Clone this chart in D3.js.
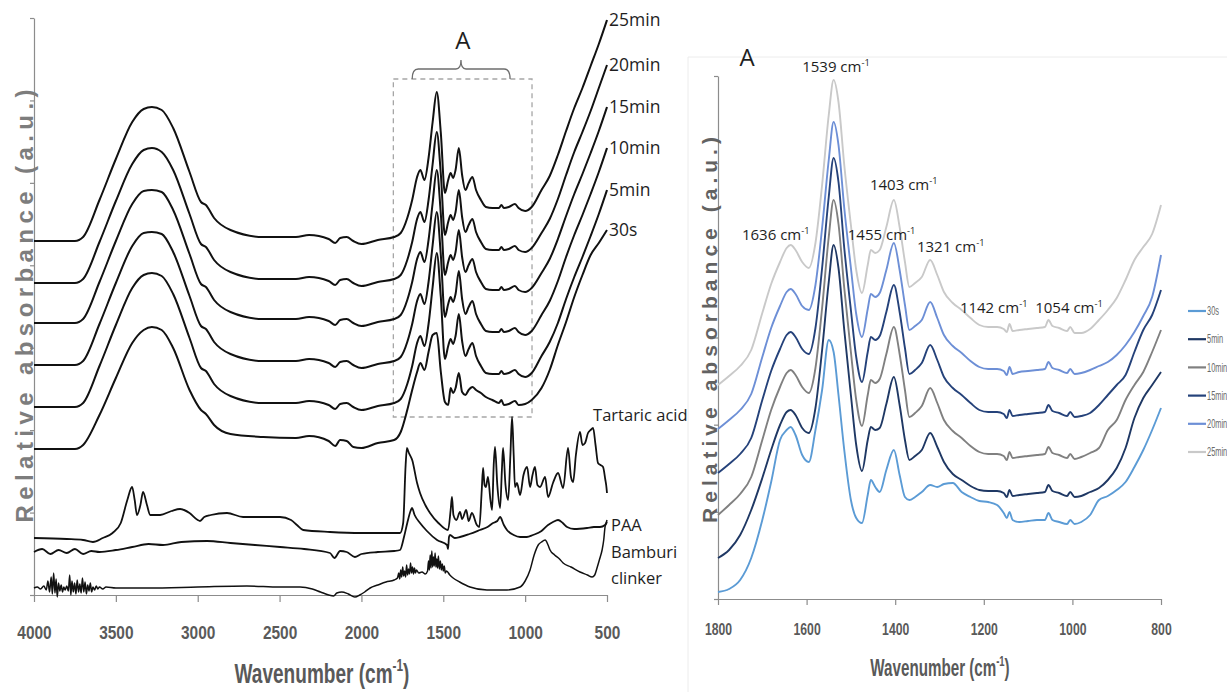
<!DOCTYPE html>
<html>
<head>
<meta charset="utf-8">
<title>FTIR spectra</title>
<script src="https://cdn.jsdelivr.net/npm/d3@7/dist/d3.min.js"></script>
<style>
  body { margin: 0; background: #fff; }
  svg { display: block; }
  .axis path, .axis line { stroke: #8c8c8c; stroke-width: 1.2px; }
  .axis text { font-family: "Liberation Sans", Arial, sans-serif; font-weight: bold; fill: #5a5a5a; }
  .calib { font-family: "Open Sans", "Noto Sans", sans-serif; fill: #1e1e1e; }
</style>
</head>
<body>
<script>
// ---------- data : left panel (4000-500 cm-1), relative absorbance (a.u.) ----------
var LEFT_MAX = 577;
var leftTicks = [4000, 3500, 3000, 2500, 2000, 1500, 1000, 500];

var leftWavenumbers = [4000, 3750, 3700, 3600, 3500, 3400, 3330, 3280, 3220, 3150,
	3050, 2980, 2950, 2900, 2800, 2600, 2400, 2320, 2200, 2160,
	2130, 2090, 2050, 2000, 1900, 1800, 1760, 1720, 1690, 1660,
	1640, 1615, 1590, 1565, 1540, 1515, 1490, 1470, 1455, 1440,
	1425, 1405, 1385, 1365, 1345, 1322, 1300, 1270, 1240, 1200,
	1160, 1145, 1130, 1100, 1062, 1040, 1000, 960, 900, 850,
	800, 750, 700, 650, 600, 550, 500];

var left25min = [354, 354, 358, 395, 436, 473, 486, 488, 485, 467,
	423, 393, 390, 377, 365, 358, 358, 360, 356, 352,
	357, 358, 354, 351, 355, 358, 362, 377, 395, 418,
	425, 415, 437, 473, 503, 462, 402, 415, 422, 417,
	425, 447, 420, 405, 412, 418, 405, 395, 388, 387,
	387, 390, 387, 388, 391, 387, 384, 388, 405, 419,
	440, 464, 487, 507, 529, 551, 575];
var left20min = [312, 312, 316, 353, 394, 431, 445, 447, 443, 425,
	381, 351, 348, 335, 323, 316, 316, 318, 314, 310,
	315, 316, 312, 309, 313, 316, 320, 335, 353, 376,
	383, 373, 395, 431, 463, 421, 360, 373, 380, 375,
	383, 405, 378, 363, 370, 376, 363, 353, 346, 345,
	345, 348, 345, 346, 349, 345, 343, 347, 362, 376,
	396, 420, 443, 463, 484, 507, 530];
var left15min = [272, 272, 276, 313, 354, 391, 404, 405, 403, 385,
	341, 311, 308, 295, 283, 276, 276, 278, 274, 270,
	275, 276, 272, 269, 273, 276, 280, 295, 313, 336,
	343, 333, 355, 392, 425, 381, 320, 333, 340, 335,
	343, 365, 338, 323, 330, 336, 323, 313, 306, 305,
	305, 308, 305, 306, 309, 305, 303, 307, 322, 336,
	356, 379, 401, 421, 442, 464, 488];
var left10min = [230, 230, 234, 271, 312, 349, 362, 363, 361, 343,
	299, 269, 266, 253, 241, 234, 234, 236, 232, 228,
	233, 234, 230, 227, 231, 234, 238, 253, 271, 294,
	301, 291, 313, 350, 383, 340, 278, 291, 298, 293,
	301, 324, 296, 281, 288, 294, 281, 271, 264, 263,
	263, 266, 263, 264, 267, 263, 260, 264, 280, 294,
	314, 338, 360, 380, 401, 423, 447];
var left5min = [188, 188, 192, 229, 270, 307, 320, 322, 319, 301,
	257, 227, 224, 211, 199, 192, 192, 194, 190, 186,
	191, 192, 188, 185, 189, 192, 196, 211, 229, 252,
	259, 249, 271, 308, 342, 298, 236, 249, 256, 251,
	259, 281, 254, 239, 246, 252, 239, 229, 222, 221,
	221, 224, 221, 222, 225, 221, 218, 222, 239, 253,
	272, 296, 318, 338, 359, 381, 405];
var left30s = [146, 146, 150, 180, 217, 252, 265, 268, 265, 247,
	205, 185, 181, 170, 161, 158, 157, 159, 154, 149,
	155, 154, 148, 147, 152, 155, 163, 185, 205, 223,
	232, 225, 243, 260, 262, 223, 193, 190, 207, 202,
	207, 222, 203, 200, 205, 208, 205, 202, 198, 195,
	192, 195, 190, 191, 194, 190, 191, 195, 207, 225,
	250, 273, 298, 320, 340, 352, 365];

var tartaricWn = [4000, 3800, 3700, 3640, 3580, 3520, 3470, 3430, 3401, 3385,
	3371, 3350, 3334, 3310, 3290, 3230, 3160, 3108, 3050, 3000,
	2986, 2960, 2920, 2821, 2723, 2600, 2497, 2430, 2394, 2356,
	2192, 2000, 1764, 1745, 1730, 1722, 1710, 1690, 1660, 1642,
	1610, 1581, 1530, 1471, 1455, 1447, 1438, 1420, 1398, 1385,
	1360, 1345, 1325, 1295, 1280, 1265, 1257, 1248, 1240, 1227,
	1212, 1202, 1192, 1184, 1170, 1153, 1142, 1135, 1120, 1104,
	1090, 1080, 1070, 1062, 1050, 1031, 1010, 988, 970, 955,
	940, 925, 909, 878, 860, 830, 799, 768, 738, 720,
	707, 690, 665, 650, 634, 616, 600, 585, 570, 555,
	540, 524, 510, 505, 500];
var tartaricAbs = [57, 56, 55, 53, 57, 62, 72, 95, 108, 95,
	80, 90, 103, 90, 80, 80, 84, 86, 82, 75,
	74, 78, 80, 82, 78, 78, 78, 75, 70, 65,
	63, 62, 62, 72, 130, 147, 142, 135, 112, 102,
	90, 82, 72, 65, 85, 98, 80, 75, 83, 76,
	85, 74, 82, 70, 68, 105, 127, 110, 108, 118,
	95, 85, 130, 148, 110, 87, 125, 147, 110, 95,
	140, 178, 140, 108, 112, 100, 120, 128, 108, 120,
	128, 110, 108, 118, 98, 112, 122, 107, 147, 118,
	113, 140, 163, 150, 152, 162, 165, 167, 150, 132,
	130, 128, 115, 110, 102];

var paaWn = [4000, 3950, 3900, 3850, 3800, 3750, 3700, 3650, 3600, 3500,
	3400, 3300, 3212, 3100, 2943, 2800, 2650, 2497, 2350, 2192,
	2165, 2130, 2090, 2040, 2000, 1900, 1800, 1764, 1740, 1720,
	1700, 1691, 1675, 1642, 1600, 1538, 1477, 1471, 1465, 1459,
	1430, 1398, 1340, 1276, 1230, 1196, 1170, 1153, 1130, 1111,
	1070, 1031, 990, 952, 900, 860, 830, 799, 770, 744,
	700, 622, 580, 543, 512, 500];
var paaAbs = [43, 46, 41, 45, 42, 46, 41, 44, 43, 45,
	48, 51, 50, 53, 54, 52, 50, 48, 46, 42,
	37, 44, 43, 38, 41, 43, 44, 45, 58, 72,
	84, 87, 80, 72, 64, 55, 50, 46, 58, 60,
	57, 58, 61, 65, 68, 72, 74, 78, 70, 65,
	60, 58, 58, 60, 64, 70, 73, 75, 72, 68,
	66, 67, 68, 68, 70, 73];

var clinkerWn = [4000, 3980, 3960, 3940, 3925, 3915, 3905, 3895, 3888, 3880,
	3872, 3865, 3858, 3850, 3842, 3834, 3826, 3818, 3810, 3800,
	3790, 3782, 3775, 3768, 3760, 3752, 3744, 3736, 3728, 3720,
	3712, 3704, 3696, 3688, 3680, 3672, 3664, 3656, 3648, 3640,
	3630, 3620, 3610, 3600, 3580, 3560, 3500, 3300, 3000, 2700,
	2500, 2375, 2300, 2250, 2200, 2170, 2150, 2120, 2080, 2040,
	2010, 1980, 1947, 1900, 1850, 1800, 1780, 1772, 1766, 1760,
	1754, 1748, 1742, 1736, 1730, 1724, 1718, 1712, 1706, 1700,
	1694, 1688, 1682, 1676, 1670, 1664, 1650, 1630, 1610, 1596,
	1590, 1585, 1580, 1575, 1570, 1565, 1560, 1555, 1550, 1545,
	1540, 1535, 1530, 1524, 1518, 1512, 1506, 1500, 1494, 1488,
	1480, 1460, 1440, 1400, 1337, 1233, 1111, 1031, 1000, 970,
	945, 920, 900, 878, 860, 848, 820, 790, 768, 720,
	665, 620, 591, 575, 561, 545, 530, 520, 512, 505,
	500];
var clinkerAbs = [7, 8, 6, 9, 5, 14, 3, 18, 1, 22,
	2, 16, -2, 12, 4, 10, 3, 8, 5, 9,
	4, 20, 0, 14, 3, 12, 1, 15, 3, 11,
	2, 17, 3, 13, 1, 10, 4, 12, 3, 8,
	5, 9, 6, 8, 6, 8, 7, 7, 8, 9,
	8, 8, 6, 3, 0, -1, 2, 3, 1, -2,
	0, 3, 7, 10, 13, 15, 17, 22, 16, 25,
	18, 28, 19, 24, 18, 30, 20, 26, 21, 32,
	22, 28, 21, 27, 22, 25, 22, 23, 21, 24,
	34, 25, 40, 27, 44, 28, 38, 29, 42, 28,
	36, 27, 39, 26, 34, 25, 31, 24, 29, 22,
	24, 20, 17, 13, 8, 5, 5, 8, 14, 25,
	40, 50, 53, 55, 50, 45, 40, 36, 32, 28,
	23, 20, 18, 20, 27, 36, 45, 55, 68, 72,
	75];

// ---------- data : right panel (region A, 1800-800 cm-1) ----------
var RIGHT_MAX = 523;
var rightTicks = [1800, 1600, 1400, 1200, 1000, 800];

var rightWavenumbers = [1800, 1775, 1750, 1725, 1700, 1680, 1660, 1645, 1636, 1625,
	1610, 1595, 1580, 1565, 1550, 1539, 1528, 1515, 1500, 1488,
	1475, 1462, 1455, 1445, 1435, 1420, 1403, 1390, 1378, 1368,
	1355, 1340, 1321, 1305, 1290, 1270, 1250, 1230, 1210, 1190,
	1170, 1155, 1148, 1142, 1135, 1120, 1100, 1080, 1062, 1054,
	1045, 1030, 1012, 1005, 995, 980, 960, 940, 920, 900,
	880, 860, 840, 820, 800];

var right30s = [7, 10, 19, 41, 79, 117, 159, 169, 172, 164,
	144, 137, 169, 209, 259, 247, 204, 149, 99, 81,
	76, 104, 119, 112, 107, 129, 149, 124, 102, 99,
	102, 107, 114, 112, 115, 116, 107, 102, 98, 97,
	94, 86, 81, 87, 79, 77, 78, 79, 79, 86,
	79, 77, 75, 79, 75, 77, 84, 99, 103, 109,
	117, 132, 149, 169, 191];
var right5min = [41, 49, 64, 89, 121, 149, 174, 187, 189, 184,
	171, 166, 191, 249, 317, 354, 331, 269, 204, 154,
	128, 159, 172, 169, 171, 195, 222, 194, 159, 139,
	143, 149, 166, 152, 137, 125, 119, 113, 109, 108,
	108, 106, 102, 109, 103, 104, 105, 106, 107, 114,
	108, 106, 103, 107, 102, 103, 107, 111, 119, 131,
	151, 181, 201, 214, 227];
var right10min = [84, 94, 105, 122, 159, 189, 212, 226, 229, 224,
	212, 206, 231, 291, 362, 399, 375, 311, 247, 199,
	173, 204, 219, 216, 220, 245, 272, 245, 209, 182,
	186, 193, 211, 196, 179, 168, 161, 153, 147, 145,
	145, 143, 139, 147, 141, 142, 143, 144, 145, 152,
	146, 144, 141, 145, 140, 142, 146, 151, 169, 179,
	199, 214, 227, 247, 269];
var right15min = [126, 135, 145, 161, 199, 228, 250, 264, 267, 262,
	250, 245, 271, 331, 402, 441, 417, 351, 289, 242,
	217, 247, 262, 259, 263, 287, 314, 287, 251, 225,
	229, 236, 254, 239, 222, 211, 204, 196, 189, 187,
	187, 185, 181, 189, 183, 184, 185, 186, 187, 194,
	188, 186, 183, 187, 182, 183, 186, 194, 204, 214,
	224, 247, 269, 284, 309];
var right20min = [170, 179, 189, 205, 242, 271, 293, 307, 310, 305,
	293, 289, 314, 371, 439, 477, 454, 391, 331, 285,
	262, 290, 305, 302, 306, 329, 356, 329, 294, 269,
	273, 279, 297, 281, 264, 253, 246, 238, 232, 230,
	230, 228, 224, 232, 225, 227, 228, 229, 230, 237,
	231, 229, 226, 230, 225, 226, 229, 233, 237, 244,
	254, 267, 283, 302, 344];
var right25min = [214, 223, 233, 249, 286, 315, 337, 351, 354, 349,
	337, 331, 356, 414, 484, 519, 497, 434, 374, 329,
	306, 334, 349, 346, 349, 372, 399, 372, 337, 312,
	316, 322, 339, 324, 307, 296, 289, 281, 274, 272,
	272, 270, 267, 275, 268, 269, 270, 271, 272, 279,
	273, 271, 268, 272, 266, 266, 270, 279, 289, 301,
	319, 339, 352, 365, 394];

var seriesNames = ["30s", "5min", "10min", "15min", "20min", "25min"];
var seriesColors = ["#5b9bd5", "#1f3864", "#808080", "#25427a", "#6d8fd6", "#c9c9c9"];
var peakLabels = ["1539", "1403", "1636", "1455", "1321", "1142", "1054"];

// ---------- drawing ----------
var svg = d3.select("body").append("svg")
	.attr("width", 1227)
	.attr("height", 692);

function pairs(wn, vals) {
	return wn.map(function(w, i) { return [w, vals[i]]; });
}

// text with a "-1" superscript after "cm"
function cmText(sel, before, size, after) {
	sel.append("tspan").text(before);
	sel.append("tspan").attr("dy", -size * 0.42).attr("font-size", size * 0.62).text("-1");
	if (after) sel.append("tspan").attr("dy", size * 0.42).text(after);
}

// narrow bold tick labels: squeeze each label to a width per digit
function squeezeTicks(axisG, size, perDigit) {
	axisG.selectAll("text")
		.attr("font-size", size)
		.attr("textLength", function(d) { return String(d).length * perDigit; })
		.attr("lengthAdjust", "spacingAndGlyphs");
}

// =================== left panel ===================
var xL = d3.scaleLinear().domain([4000, 500]).range([34, 607]);
var yL = d3.scaleLinear().domain([0, LEFT_MAX]).range([595, 18]);

var lineL = d3.line()
	.x(function(d) { return xL(d[0]); })
	.y(function(d) { return yL(d[1]); })
	.curve(d3.curveMonotoneX);

// axes
var axBottomL = svg.append("g")
	.attr("class", "axis")
	.attr("transform", "translate(0," + yL(0) + ")")
	.call(d3.axisBottom(xL).tickValues(leftTicks).tickSize(7).tickSizeOuter(0)
		.tickPadding(24).tickFormat(d3.format("d")));
squeezeTicks(axBottomL, 18, 8.6);

svg.append("g")
	.attr("class", "axis")
	.attr("transform", "translate(" + xL(4000) + ",0)")
	.call(d3.axisLeft(yL).tickValues(d3.range(8).map(function(i) { return i * LEFT_MAX / 7; }))
		.tickSize(4).tickSizeOuter(0).tickFormat(""));

// dashed box marking region A
var boxA = { from: 1805, to: 958, top: 516, bottom: 178 };
svg.append("rect")
	.attr("x", xL(boxA.from))
	.attr("y", yL(boxA.top))
	.attr("width", xL(boxA.to) - xL(boxA.from))
	.attr("height", yL(boxA.bottom) - yL(boxA.top))
	.attr("fill", "none")
	.attr("stroke", "#a6a6a6")
	.attr("stroke-width", 1.3)
	.attr("stroke-dasharray", "5,4");

// brace + "A"
var bl = xL(1690), br = xL(1092), bm = xL(1392), bt = yL(boxA.top);
svg.append("path")
	.attr("d", "M" + bl + "," + bt + " Q" + bl + "," + (bt - 10) + " " + (bl + 6) + "," + (bt - 10) +
		" L" + (bm - 5) + "," + (bt - 10) + " Q" + bm + "," + (bt - 10) + " " + bm + "," + (bt - 19) +
		" Q" + bm + "," + (bt - 10) + " " + (bm + 5) + "," + (bt - 10) +
		" L" + (br - 6) + "," + (bt - 10) + " Q" + br + "," + (bt - 10) + " " + br + "," + bt)
	.attr("fill", "none")
	.attr("stroke", "#6e6e6e")
	.attr("stroke-width", 1.3);
svg.append("text")
	.attr("class", "calib")
	.attr("x", bm + 2)
	.attr("y", bt - 30)
	.attr("text-anchor", "middle")
	.attr("font-size", 24)
	.text("A");

// time series (black)
var leftSeries = [
	{ name: "30s", values: left30s },
	{ name: "5min", values: left5min },
	{ name: "10min", values: left10min },
	{ name: "15min", values: left15min },
	{ name: "20min", values: left20min },
	{ name: "25min", values: left25min }
];

leftSeries.forEach(function(s) {
	var data = pairs(leftWavenumbers, s.values);
	svg.append("path")
		.attr("d", lineL(data))
		.attr("fill", "none")
		.attr("stroke", "#111")
		.attr("stroke-width", 2);
	var last = data[data.length - 1];
	svg.append("text")
		.attr("class", "calib")
		.attr("x", xL(last[0]) + 2)
		.attr("y", yL(last[1]))
		.attr("dy", "0.36em")
		.attr("font-size", 17.5)
		.text(s.name);
});

// reference spectra
[[tartaricWn, tartaricAbs, 1.8], [paaWn, paaAbs, 1.8], [clinkerWn, clinkerAbs, 1.5]].forEach(function(r) {
	svg.append("path")
		.attr("d", lineL(pairs(r[0], r[1])))
		.attr("fill", "none")
		.attr("stroke", "#111")
		.attr("stroke-width", r[2]);
});

svg.append("text").attr("class", "calib").attr("x", xL(585)).attr("y", yL(180))
	.attr("dy", "0.36em").attr("font-size", 16.5).text("Tartaric acid");
svg.append("text").attr("class", "calib").attr("x", xL(500) + 4).attr("y", yL(70))
	.attr("dy", "0.36em").attr("font-size", 16.5).text("PAA");
svg.append("text").attr("class", "calib").attr("x", xL(500) + 4).attr("y", yL(43))
	.attr("dy", "0.36em").attr("font-size", 16.5).text("Bamburi");
svg.append("text").attr("class", "calib").attr("x", xL(500) + 4).attr("y", yL(17))
	.attr("dy", "0.36em").attr("font-size", 16.5).text("clinker");

// axis titles
var xtL = svg.append("g").attr("transform", "translate(322,683) scale(0.68,1)")
	.append("text")
	.attr("text-anchor", "middle")
	.attr("font-family", "'Liberation Sans', Arial, sans-serif")
	.attr("font-weight", "bold")
	.attr("font-size", 28)
	.attr("fill", "#595959");
cmText(xtL, "Wavenumber (cm", 28, ")");

svg.append("text")
	.attr("transform", "translate(33,306) rotate(-90)")
	.attr("text-anchor", "middle")
	.attr("font-family", "'Liberation Sans', Arial, sans-serif")
	.attr("font-weight", "bold")
	.attr("font-size", 24)
	.attr("fill", "#7d7d7d")
	.attr("textLength", 433)
	.attr("lengthAdjust", "spacing")
	.text("Relative absorbance (a.u.)");

// =================== right panel ===================
// faint frame of the inset figure
svg.append("path")
	.attr("d", "M688,692 V57 H1227")
	.attr("fill", "none")
	.attr("stroke", "#ececec")
	.attr("stroke-width", 1);

var xR = d3.scaleLinear().domain([1800, 800]).range([718, 1161]);
var yR = d3.scaleLinear().domain([0, RIGHT_MAX]).range([599, 76]);

var lineR = d3.line()
	.x(function(d) { return xR(d[0]); })
	.y(function(d) { return yR(d[1]); })
	.curve(d3.curveMonotoneX);

var axBottomR = svg.append("g")
	.attr("class", "axis")
	.attr("transform", "translate(0," + yR(0) + ")")
	.call(d3.axisBottom(xR).tickValues(rightTicks).tickSize(6).tickSizeOuter(0)
		.tickPadding(18).tickFormat(d3.format("d")));
squeezeTicks(axBottomR, 17, 6.8);

svg.append("g")
	.attr("class", "axis")
	.attr("transform", "translate(" + xR(1800) + ",0)")
	.call(d3.axisLeft(yR).tickValues(d3.range(7).map(function(i) { return i * RIGHT_MAX / 6; }))
		.tickSize(4).tickSizeOuter(0).tickFormat(""));

var rightSeries = [right30s, right5min, right10min, right15min, right20min, right25min];

rightSeries.forEach(function(vals, i) {
	svg.append("path")
		.attr("d", lineR(pairs(rightWavenumbers, vals)))
		.attr("fill", "none")
		.attr("stroke", seriesColors[i])
		.attr("stroke-width", 1.9);
});

// peak annotations (label start wavenumber, height in a.u.)
var peakPos = [[1610, 532], [1457, 414], [1746, 364], [1507, 364], [1351, 352], [1254, 291], [1084, 291]];
peakLabels.forEach(function(p, i) {
	var t = svg.append("text")
		.attr("class", "calib")
		.attr("x", xR(peakPos[i][0]))
		.attr("y", yR(peakPos[i][1]))
		.attr("dy", "0.36em")
		.attr("font-size", 15);
	cmText(t, p + " cm", 15);
});

svg.append("text")
	.attr("class", "calib")
	.attr("x", 747)
	.attr("y", 66)
	.attr("text-anchor", "middle")
	.attr("font-size", 24)
	.text("A");

// legend
var legend = svg.append("g").attr("transform", "translate(1188,311)");
seriesNames.forEach(function(n, i) {
	var g = legend.append("g").attr("transform", "translate(0," + (i * 28.2) + ")");
	g.append("line")
		.attr("x1", 0).attr("x2", 18)
		.attr("stroke", seriesColors[i])
		.attr("stroke-width", 2.2);
	g.append("g").attr("transform", "translate(19,0) scale(0.62,1)")
		.append("text")
		.attr("dy", "0.35em")
		.attr("font-family", "'Liberation Sans', Arial, sans-serif")
		.attr("font-size", 12)
		.attr("fill", "#6a6a6a")
		.text(n);
});

// axis titles
var xtR = svg.append("g").attr("transform", "translate(940,676) scale(0.66,1)")
	.append("text")
	.attr("text-anchor", "middle")
	.attr("font-family", "'Liberation Sans', Arial, sans-serif")
	.attr("font-weight", "bold")
	.attr("font-size", 23)
	.attr("fill", "#595959");
cmText(xtR, "Wavenumber (cm", 23, ")");

svg.append("text")
	.attr("transform", "translate(717,330) rotate(-90)")
	.attr("text-anchor", "middle")
	.attr("font-family", "'Liberation Sans', Arial, sans-serif")
	.attr("font-weight", "bold")
	.attr("font-size", 21)
	.attr("fill", "#626262")
	.attr("textLength", 386)
	.attr("lengthAdjust", "spacing")
	.text("Relative absorbance (a.u.)");
</script>
</body>
</html>
